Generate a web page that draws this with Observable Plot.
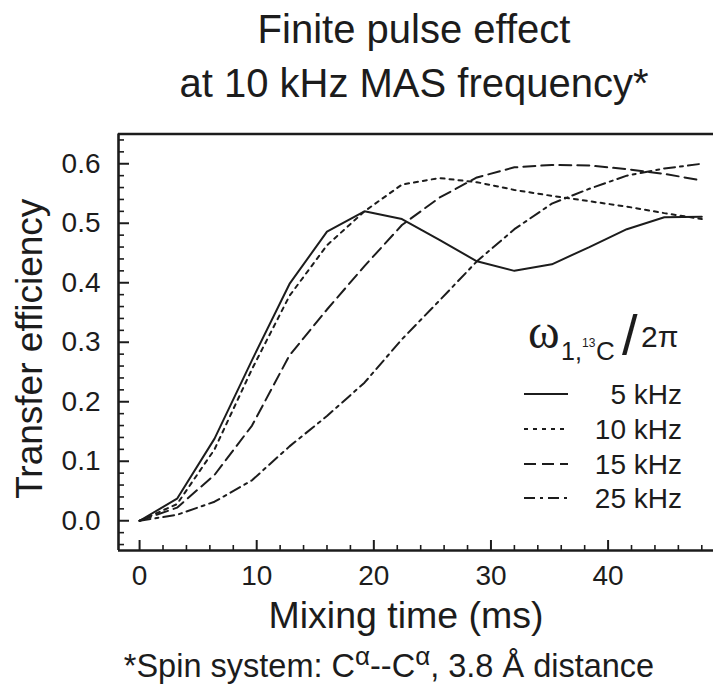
<!DOCTYPE html>
<html>
<head>
<meta charset="utf-8">
<script src="https://cdn.jsdelivr.net/npm/d3@7"></script>
<script src="https://cdn.jsdelivr.net/npm/@observablehq/plot@0.6"></script>
<style>
  html, body { margin: 0; padding: 0; background: #fff; overflow: hidden; }
</style>
</head>
<body>
<div id="chart"></div>
<script>
// ---- data ----
const times = [0, 3.2, 6.4, 9.6, 12.8, 16, 19.2, 22.4, 25.6, 28.8, 32, 35.2, 38.4, 41.6, 44.8, 48];
const eff5  = [0, 0.037, 0.138, 0.270, 0.398, 0.486, 0.520, 0.507, 0.472, 0.436, 0.420, 0.431, 0.460, 0.490, 0.510, 0.511];
const eff10 = [0, 0.028, 0.120, 0.255, 0.378, 0.463, 0.520, 0.565, 0.576, 0.569, 0.556, 0.546, 0.537, 0.528, 0.517, 0.507];
const eff15 = [0, 0.022, 0.077, 0.160, 0.278, 0.355, 0.428, 0.497, 0.543, 0.577, 0.594, 0.598, 0.597, 0.591, 0.583, 0.572];
const eff25 = [0, 0.010, 0.032, 0.068, 0.125, 0.176, 0.232, 0.305, 0.370, 0.436, 0.490, 0.533, 0.558, 0.580, 0.592, 0.600];
const seriesNames = ["5 kHz", "10 kHz", "15 kHz", "25 kHz"];
const seriesValues = [eff5, eff10, eff15, eff25];

const xMajor = [0, 10, 20, 30, 40];
const xMinor = [2, 4, 6, 8, 12, 14, 16, 18, 22, 24, 26, 28, 32, 34, 36, 38, 42, 44, 46, 48];
const yMajor = [0, 0.1, 0.2, 0.3, 0.4, 0.5, 0.6];
const yMinor = [-0.04, -0.02, 0.02, 0.04, 0.06, 0.08, 0.12, 0.14, 0.16, 0.18, 0.22, 0.24, 0.26, 0.28,
                0.32, 0.34, 0.36, 0.38, 0.42, 0.44, 0.46, 0.48, 0.52, 0.54, 0.56, 0.58, 0.62, 0.64];
const xDomain = [-1.8, 49];
const yDomain = [-0.05, 0.65];

const titleLine1 = "Finite pulse effect";
const titleLine2 = "at 10 kHz MAS frequency*";
const xLabel = "Mixing time (ms)";
const yLabel = "Transfer efficiency";
const captionText = "*Spin system: Cα--Cα, 3.8 Å distance";

// ---- styles ----
const dashes = {"5 kHz": null, "10 kHz": "4,5", "15 kHz": "12,6", "25 kHz": "11,5,3,5"};
const ink = "#1c1c1c";
const font = "'Liberation Sans', Arial, Helvetica, sans-serif";

const table = [];
seriesNames.forEach((name, k) => {
  times.forEach((t, i) => table.push({series: name, t, v: seriesValues[k][i]}));
});

const lines = seriesNames.map(name => Plot.line(table, {
  filter: d => d.series === name,
  x: "t", y: "v",
  stroke: ink, strokeWidth: 2,
  strokeDasharray: dashes[name] || undefined,
  strokeLinejoin: "miter"
}));

const plot = Plot.plot({
  width: 713,
  height: 684,
  marginTop: 133.5,
  marginBottom: 134,
  marginLeft: 118,
  marginRight: 0,
  x: {domain: xDomain, label: null},
  y: {domain: yDomain, label: null},
  style: {fontFamily: font, background: "#fff", color: ink},
  marks: [
    ...lines,
    // frame (top, bottom, left)
    Plot.ruleY([yDomain[1]], {stroke: ink, strokeWidth: 2.6}),
    Plot.ruleY([yDomain[0]], {stroke: ink, strokeWidth: 2.6}),
    Plot.ruleX([xDomain[0]], {stroke: ink, strokeWidth: 2.6}),
    // inward ticks
    Plot.axisX(xMinor, {tickSize: 5, dy: -5, fill: "none", stroke: ink, strokeWidth: 1.6, label: null}),
    Plot.axisX(xMajor, {tickSize: 10, dy: -10, fill: "none", stroke: ink, strokeWidth: 2, label: null}),
    Plot.axisY(yMinor, {tickSize: 6, dx: 6, fill: "none", stroke: ink, strokeWidth: 1.6, label: null}),
    Plot.axisY(yMajor, {tickSize: 11, dx: 11, fill: "none", stroke: ink, strokeWidth: 2, label: null}),
    // tick labels
    Plot.axisX(xMajor, {tickSize: 0, tickPadding: 14.5, fontSize: 28, fill: ink, label: null}),
    Plot.axisY(yMajor, {tickSize: 0, tickPadding: 18, fontSize: 28, fill: ink, label: null, tickFormat: d3.format(".1f")}),
    // axis labels, title, caption
    Plot.text([xLabel], {text: d => d, frameAnchor: "bottom", lineAnchor: "top", textAnchor: "middle", dx: -10, dy: 51, fontSize: 37.5, fill: ink}),
    Plot.text([yLabel], {text: d => d, frameAnchor: "left", lineAnchor: "middle", textAnchor: "middle", rotate: -90, dx: -88, dy: 6.5, fontSize: 37, fill: ink}),
    Plot.text([titleLine1], {text: d => d, frameAnchor: "top", lineAnchor: "top", textAnchor: "middle", dx: -2, dy: -119, fontSize: 40, fill: ink}),
    Plot.text([titleLine2], {text: d => d, frameAnchor: "top", lineAnchor: "top", textAnchor: "middle", dx: -2, dy: -65, fontSize: 40, fill: ink}),
    Plot.text([captionText], {text: d => d, frameAnchor: "bottom", lineAnchor: "top", textAnchor: "middle", dx: -27, dy: 103, fontSize: 32.5, fill: ink})
  ]
});

document.getElementById("chart").appendChild(plot);

// superscript alphas in the caption
const svg = d3.select(plot);
svg.selectAll("text").each(function() {
  if (this.textContent === captionText) {
    const fs = 32.5, shift = 0.36 * fs;
    const sel = d3.select(this);
    sel.text(null);
    const parts = [["*Spin system: C", false], ["α", true], ["--C", false], ["α", true], [", 3.8 Å distance", false]];
    let up = false;
    parts.forEach(([s, sup]) => {
      const ts = sel.append("tspan").text(s);
      if (sup) { ts.attr("dy", -shift).attr("font-size", fs * 0.8); up = true; }
      else if (up) { ts.attr("dy", shift); up = false; }
    });
  }
});

// legend
const leg = svg.append("g").attr("font-family", font).attr("fill", ink).attr("text-anchor", "start");
const head = leg.append("text").attr("text-anchor", "start");
head.append("tspan").attr("x", 528).attr("y", 348).attr("font-family", "'Liberation Serif', 'DejaVu Serif', serif").attr("font-size", 48).text("ω");
head.append("tspan").attr("x", 561).attr("y", 360).attr("font-size", 25).text("1,");
head.append("tspan").attr("x", 582).attr("y", 347).attr("font-size", 12).text("13");
head.append("tspan").attr("x", 596).attr("y", 360).attr("font-size", 26).text("C");
head.append("tspan").attr("x", 622).attr("y", 354).attr("font-size", 56).text("/");
head.append("tspan").attr("x", 641).attr("y", 347).attr("font-size", 30).text("2π");

const rowY = [394, 429, 464, 498];
seriesNames.forEach((name, i) => {
  leg.append("line")
    .attr("x1", 524).attr("x2", 568)
    .attr("y1", rowY[i]).attr("y2", rowY[i])
    .attr("stroke", ink).attr("stroke-width", 2)
    .attr("stroke-dasharray", dashes[name]);
  leg.append("text")
    .attr("x", 682).attr("y", rowY[i] + 10)
    .attr("text-anchor", "end").attr("font-size", 28)
    .text(name);
});
</script>
</body>
</html>
